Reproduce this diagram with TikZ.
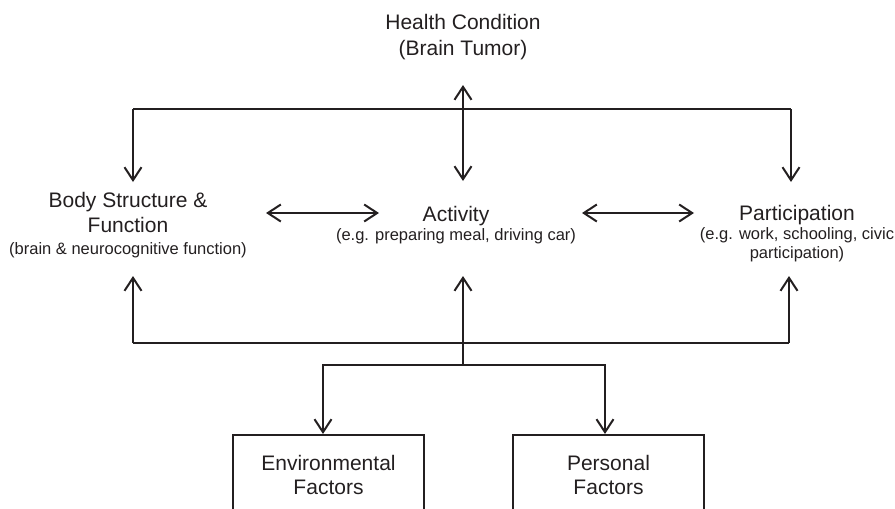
\documentclass[tikz,border=0pt]{standalone}
\usepackage{fontspec}
\setmainfont{Liberation Sans}
\usetikzlibrary{arrows.meta}
\definecolor{ink}{HTML}{231F20}
\newcommand{\bigfs}{\fontsize{21}{25}\selectfont}
\newcommand{\smallfs}{\fontsize{16.5}{19}\selectfont}
\begin{document}
\begin{tikzpicture}[x=1pt,y=-1pt,
  lbl/.style={anchor=base, inner sep=0pt, text=ink, font=\bigfs},
  conn/.style={draw=ink, line width=2pt},
  tipboth/.style={conn, {Straight Barb[length=13pt,width=17pt]}-{Straight Barb[length=13pt,width=17pt]}},
  tipend/.style={conn, -{Straight Barb[length=13pt,width=17pt]}},
  factbox/.style={draw=ink, line width=2pt, minimum width=191pt, text height=35pt, text depth=80pt, inner sep=0pt, anchor=base, text=ink, font=\bigfs}
]
\useasboundingbox (0,0) rectangle (895,509);

% text nodes
\node[lbl] (hc) at (463,29) {\begin{tabular}[t]{@{}c@{}}Health Condition\\[1pt](Brain Tumor)\end{tabular}};
\node[lbl] (body) at (128,207) {\begin{tabular}[t]{@{}c@{}}Body Structure \&\\Function\\[-3pt]{\smallfs (brain \& neurocognitive function)}\end{tabular}};
\node[lbl] (act) at (456,221) {\begin{tabular}[t]{@{}c@{}}Activity\\[-6pt]{\smallfs (e.g. preparing meal, driving car)}\end{tabular}};
\node[lbl] (part) at (797,220) {\begin{tabular}[t]{@{}c@{}}Participation\\[-6pt]{\smallfs (e.g. work, schooling, civic}\\[-6pt]{\smallfs participation)}\end{tabular}};
\node[factbox] (env) at (328.5,470) {\begin{tabular}[t]{@{}c@{}}Environmental\\[-1pt]Factors\end{tabular}};
\node[factbox] (pers) at (608.5,470) {\begin{tabular}[t]{@{}c@{}}Personal\\[-1pt]Factors\end{tabular}};

% junction / tip coordinates
\coordinate (tl) at (133,109);
\coordinate (tr) at (791,109);
\coordinate (hcout) at (463,85);
\coordinate (actin) at (463,181);
\coordinate (bodyin) at (133,182);
\coordinate (partin) at (791,182);
\coordinate (bodyR) at (266,213);
\coordinate (actL) at (379,213);
\coordinate (actR) at (582,213);
\coordinate (partL) at (694,213);
\coordinate (bl) at (133,343);
\coordinate (br) at (789,343);
\coordinate (bodyout) at (133,276);
\coordinate (partout) at (789,276);
\coordinate (actout) at (463,276);
\coordinate (split) at (463,365);

% connectors
\draw[conn, line width=2.6pt] (tl) -- (tr);
\draw[tipend] (tl) -- (bodyin);
\draw[tipend] (tr) -- (partin);
\draw[tipboth] (hcout) -- (actin);
\draw[tipboth] (bodyR) -- (actL);
\draw[tipboth] (actR) -- (partL);
\draw[conn] (bl) -- (br);
\draw[tipend] (bl) -- (bodyout);
\draw[tipend] (br) -- (partout);
\draw[tipend] (split) -- (actout);
\draw[tipend] (split) -| ([xshift=-5.5pt]env.north);
\draw[tipend] (split) -| ([xshift=-3.5pt]pers.north);
\end{tikzpicture}
\end{document}
